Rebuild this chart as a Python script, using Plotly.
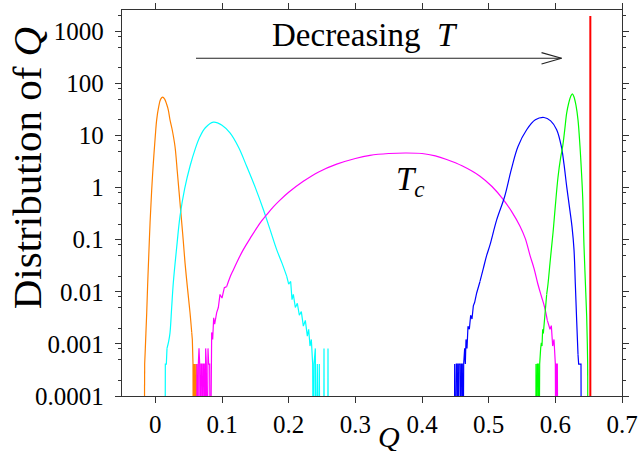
import plotly.graph_objects as go

Z = 1e-6  # empty histogram bin (drawn below the axis floor)

orange_x = [-0.0170, -0.0160, -0.0150, -0.0140, -0.0129, -0.0115, -0.0100, -0.0079, -0.0055, -0.0030,
            0.0000, 0.0020, 0.0050, 0.0080, 0.0110, 0.0140, 0.0170, 0.0195, 0.0220, 0.0250, 0.0295,
            0.0330, 0.0370, 0.0410, 0.0445, 0.0480, 0.0520, 0.0546, 0.0555, 0.0565, 0.0570, 0.0580,
            0.0590, 0.0595, 0.0605, 0.0615, 0.0620]
orange_y = [Z, 0.00041, 0.00082, 0.00178, 0.0040, 0.0141, 0.0447, 0.214, 0.89, 2.95,
            10.0, 20.0, 35.5, 50.1, 54.6, 50.1, 39.8, 30.9, 20.0, 13.5, 6.17,
            2.0, 0.513, 0.132, 0.0363, 0.0126, 0.0040, 0.00166, 0.00122, 0.00041, Z, 0.00041,
            Z, 0.00041, Z, 0.00041, Z]

cyan_x = [0.0145, 0.0150, 0.0165, 0.0175, 0.0200, 0.0220, 0.0245, 0.0270, 0.0320, 0.0370, 0.0440,
          0.0520, 0.0600, 0.0670, 0.0750, 0.0870, 0.1000, 0.1120, 0.1250, 0.1370, 0.1500, 0.1620,
          0.1720, 0.1820, 0.1900, 0.1970, 0.2000, 0.2030, 0.2050, 0.2070, 0.2100, 0.2130, 0.2160,
          0.2190, 0.2220, 0.2250, 0.2280, 0.2300, 0.2320, 0.2340, 0.2360, 0.2370, 0.2380, 0.2400,
          0.2410, 0.2430, 0.2440, 0.2460, 0.2470, 0.2525, 0.2530, 0.2535, 0.2585, 0.2590, 0.2595]
cyan_y = [Z, 0.00041, 0.00041, 0.00082, 0.00112, 0.00163, 0.0050, 0.0151, 0.0708, 0.282, 0.955,
          2.57, 5.62, 9.55, 14.1, 18.1, 15.8, 11.2, 5.89, 2.57, 1.0, 0.380,
          0.158, 0.0646, 0.0355, 0.0200, 0.0141, 0.0158, 0.00708, 0.00891, 0.0050, 0.0060, 0.00355,
          0.00417, 0.00219, 0.00282, 0.00141, 0.00191, 0.00091, 0.00122, 0.00041, Z, 0.00041, 0.00082,
          Z, 0.00041, Z, 0.00041, Z, Z, 0.00082, Z, Z, 0.00082, Z]

magenta_x = [0.0620, 0.0625, 0.0640, 0.0645, 0.0655, 0.0665, 0.0675, 0.0685, 0.0700, 0.0710, 0.0720,
             0.0735, 0.0745, 0.0755, 0.0765, 0.0775, 0.0790, 0.0800, 0.0815, 0.0825, 0.0835, 0.0845,
             0.0860, 0.0875, 0.0890, 0.0920, 0.0945, 0.0970, 0.1000, 0.1035, 0.1070, 0.1120, 0.1170,
             0.1220, 0.1320, 0.1420, 0.1570, 0.1670, 0.1770, 0.1870, 0.2000, 0.2220, 0.2450, 0.2720,
             0.3000, 0.3220, 0.3500, 0.3750, 0.4000, 0.4200, 0.4370, 0.4600, 0.4870, 0.5050, 0.5220,
             0.5350, 0.5470, 0.5550, 0.5620, 0.5680, 0.5740, 0.5790, 0.5840, 0.5880, 0.5920, 0.5940,
             0.5960, 0.5980, 0.6000, 0.6010, 0.6015, 0.6030, 0.6040]
magenta_y = [Z, 0.00041, Z, 0.00041, 0.00082, 0.00041, Z, 0.00041, 0.00041, Z, 0.00041,
             0.00041, Z, 0.00082, 0.00041, Z, 0.00082, 0.00041, 0.00041, Z, 0.00082, 0.00166,
             0.00122, 0.00316, 0.0024, 0.0040, 0.0050, 0.0089, 0.0076, 0.0120, 0.0126, 0.0191, 0.0263,
             0.0363, 0.0646, 0.105, 0.209, 0.302, 0.427, 0.575, 0.813, 1.32, 2.0, 2.82,
             3.63, 4.17, 4.52, 4.62, 4.52, 4.07, 3.47, 2.63, 1.66, 1.05, 0.589,
             0.339, 0.182, 0.105, 0.050, 0.0282, 0.0138, 0.0083, 0.0050, 0.00282, 0.00191, 0.00224,
             0.00091, 0.00122, 0.00041, Z, 0.00041, 0.00041, Z]

blue_x = [0.4485, 0.4490, 0.4500, 0.4515, 0.4530, 0.4540, 0.4550, 0.4570, 0.4580, 0.4590, 0.4605,
          0.4615, 0.4625, 0.4640, 0.4650, 0.4660, 0.4675, 0.4690, 0.4710, 0.4730, 0.4750, 0.4770,
          0.4790, 0.4820, 0.4850, 0.4870, 0.4920, 0.4970, 0.5020, 0.5120, 0.5240, 0.5340, 0.5440,
          0.5570, 0.5700, 0.5830, 0.5930, 0.6020, 0.6090, 0.6130, 0.6170, 0.6220, 0.6250, 0.6280,
          0.6300, 0.6320, 0.6340, 0.6350, 0.6385, 0.6390]
blue_y = [Z, 0.00041, Z, 0.00041, 0.00041, Z, 0.00041, 0.00041, Z, 0.00041, 0.00041,
          Z, 0.00041, 0.00082, 0.00041, 0.00122, 0.00082, 0.00219, 0.00191, 0.00355, 0.0030, 0.00537,
          0.0063, 0.0095, 0.0132, 0.0158, 0.0282, 0.050, 0.0794, 0.240, 0.676, 2.24, 6.17,
          12.9, 20.0, 22.2, 19.1, 12.9, 6.17, 2.82, 1.06, 0.355, 0.178, 0.0646,
          0.0141, 0.00282, 0.00063, 0.00041, 0.00041, Z]

green_x = [0.5705, 0.5710, 0.5720, 0.5730, 0.5745, 0.5755, 0.5765, 0.5780, 0.5790, 0.5800, 0.5810,
           0.5820, 0.5840, 0.5855, 0.5870, 0.5890, 0.5920, 0.5940, 0.5970, 0.6000, 0.6040, 0.6080,
           0.6110, 0.6140, 0.6170, 0.6200, 0.6230, 0.6255, 0.6280, 0.6310, 0.6340, 0.6370, 0.6390,
           0.6410, 0.6430, 0.6450, 0.6470, 0.6480, 0.6485, 0.6490]
green_y = [Z, 0.00041, Z, 0.00041, 0.00041, Z, 0.00041, 0.00082, 0.00105, 0.00091, 0.00191,
           0.00158, 0.00339, 0.0040, 0.0089, 0.0141, 0.0355, 0.0646, 0.158, 0.447, 1.58, 3.8,
           6.17, 12.6, 26.9, 41.7, 56.2, 63.1, 55.0, 38.0, 20.0, 6.17, 2.24,
           0.676, 0.0759, 0.0158, 0.00339, 0.0010, 0.00041, Z]

red_x = [0.6525, 0.6525]
red_y = [Z, 1970]

# (x, y, colour, index range of the smooth body; tails outside it are noisy bins)
series = [
    (orange_x, orange_y, "#FF8000", (1, 27)),
    (cyan_x, cyan_y, "#00FFFF", (3, 25)),
    (magenta_x, magenta_y, "#FF00FF", (30, 63)),
    (blue_x, blue_y, "#0000FF", (25, 46)),
    (green_x, green_y, "#00FF00", (14, 38)),
]

x_ticks = [0, 0.1, 0.2, 0.3, 0.4, 0.5, 0.6, 0.7]
x_ticktext = ["0", "0.1", "0.2", "0.3", "0.4", "0.5", "0.6", "0.7"]
y_ticks = [0.0001, 0.001, 0.01, 0.1, 1, 10, 100, 1000]
y_ticktext = ["0.0001", "0.001", "0.01", "0.1", "1", "10", "100", "1000"]
y_minor = [m * 10.0 ** e for e in range(-4, 4) for m in (2, 5, 8)]

fig = go.Figure()


def add_line(xs, ys, col, shape, width=1.2):
    fig.add_trace(go.Scatter(x=xs, y=ys, mode="lines",
                             line=dict(color=col, width=width, shape=shape,
                                       **({"smoothing": 1.0} if shape == "spline" else {})),
                             showlegend=False, hoverinfo="skip"))


for xs, ys, col, (i0, i1) in series:
    add_line(xs[:i0 + 1], ys[:i0 + 1], col, "linear")
    add_line(xs[i0:i1 + 1], ys[i0:i1 + 1], col, "spline")
    add_line(xs[i1:], ys[i1:], col, "linear")
add_line(red_x, red_y, "#FF0000", "linear", width=2.0)

FONT = "Liberation Serif, Times New Roman, serif"
axis_common = dict(showline=True, linecolor="#333333", linewidth=1.3, mirror="ticks",
                   ticks="outside", ticklen=6, tickwidth=1.2, tickcolor="#333333",
                   showgrid=False, zeroline=False, automargin=False,
                   tickfont=dict(family=FONT, size=25, color="black"))

fig.update_xaxes(range=[-0.05, 0.7], tickmode="array", tickvals=x_ticks, ticktext=x_ticktext,
                 **axis_common)
fig.update_yaxes(type="log", range=[-4, 3.41], tickmode="array", tickvals=y_ticks,
                 ticktext=y_ticktext, ticklabelstandoff=6,
                 minor=dict(tickmode="array", tickvals=y_minor, ticklen=3, tickwidth=1.0,
                            tickcolor="#333333", ticks="outside"),
                 **axis_common)

# arrow "Decreasing T"
arrow_col = "#222222"
fig.add_shape(type="line", xref="x", yref="paper", x0=0.061, x1=0.6093, y0=0.875, y1=0.875,
              line=dict(color=arrow_col, width=1.2))
fig.add_shape(type="line", xref="x", yref="paper", x0=0.5793, x1=0.6093, y0=0.8894, y1=0.875,
              line=dict(color=arrow_col, width=1.2))
fig.add_shape(type="line", xref="x", yref="paper", x0=0.5793, x1=0.6093, y0=0.8601, y1=0.875,
              line=dict(color=arrow_col, width=1.2))

fig.add_annotation(x=0.3144, y=0.935, xref="x", yref="paper", showarrow=False,
                   xanchor="center", yanchor="middle",
                   text="Decreasing\u00a0\u00a0<i>T</i>",
                   font=dict(family=FONT, size=33, color="black"))
fig.add_annotation(x=0.382, y=0.555, xref="x", yref="paper", showarrow=False,
                   xanchor="center", yanchor="middle",
                   text="<i>T</i><sub><i>c</i></sub>",
                   font=dict(family=FONT, size=33, color="black"))
fig.add_annotation(x=0.35, y=-0.104, xref="x", yref="paper", showarrow=False,
                   xanchor="center", yanchor="middle", text="<i>Q</i>",
                   font=dict(family=FONT, size=30, color="black"))
fig.add_annotation(x=-0.19, y=0.59, xref="paper", yref="paper", showarrow=False,
                   xanchor="center", yanchor="middle",
                   textangle=-90, text="Distribution of <i>Q</i>",
                   font=dict(family=FONT, size=41, color="black"))

fig.update_layout(width=642, height=451, margin=dict(l=122, r=20, t=10, b=55),
                  plot_bgcolor="white", paper_bgcolor="white")

fig.write_html("out.html", config={"displayModeBar": False},
               post_script="document.body.style.margin='0';document.body.style.overflow='hidden';")
